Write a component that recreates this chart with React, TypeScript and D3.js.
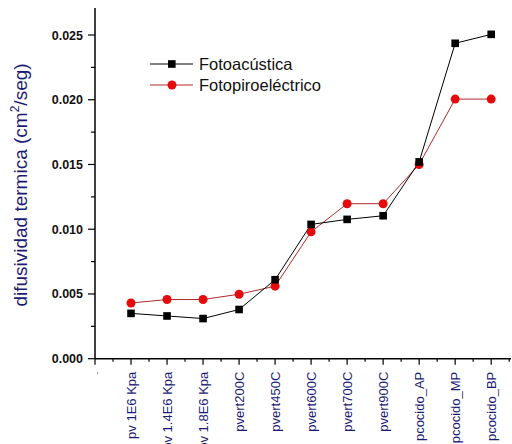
import React, { useRef, useEffect } from "react";
import { select, scaleLinear, line, range } from "d3";

const categories = [
  "-",
  "pv 1E6 Kpa",
  "pv 1.4E6 Kpa",
  "pv 1.8E6 Kpa",
  "pvert200C",
  "pvert450C",
  "pvert600C",
  "pvert700C",
  "pvert900C",
  "pcocido_AP",
  "pcocido_MP",
  "pcocido_BP",
];

const fotoacustica = [0.0035, 0.0033, 0.0031, 0.0038, 0.0061, 0.01037, 0.01076, 0.01104, 0.0152, 0.02436, 0.02505];
const fotopiro = [0.0043, 0.00457, 0.00457, 0.00498, 0.0056, 0.0098, 0.01197, 0.01197, 0.015, 0.02005, 0.02005];

const yTicks = [0, 0.005, 0.01, 0.015, 0.02, 0.025];

export default function App() {
  const svgRef = useRef<SVGSVGElement>(null);

  useEffect(() => {
    const svg = select(svgRef.current);
    svg.selectAll("*").remove();

    const navy = "#1b1b74";
    const font = "Liberation Sans, Arial, sans-serif";
    const x = scaleLinear().domain([0, 11.55]).range([95, 511]);
    const y = scaleLinear().domain([0, 0.025]).range([358.7, 35]);

    const g = svg.append("g");

    // y axis
    g.append("line").attr("x1", 95).attr("x2", 95).attr("y1", 8).attr("y2", y(0)).attr("stroke", "#000").attr("stroke-width", 1.5);
    range(0, 0.0271, 0.0025).forEach((v, i) => {
      const major = i % 2 === 0;
      g.append("line")
        .attr("x1", 95).attr("x2", major ? 88 : 91)
        .attr("y1", y(v)).attr("y2", y(v))
        .attr("stroke", "#000").attr("stroke-width", 1.2);
    });
    yTicks.forEach((v) => {
      g.append("text")
        .attr("x", 83).attr("y", y(v) + 4.5)
        .attr("text-anchor", "end")
        .attr("font-family", font)
        .attr("font-weight", "bold")
        .attr("font-size", 12.5)
        .attr("fill", "#111")
        .text(v.toFixed(3));
    });

    // x axis
    g.append("line").attr("x1", 95).attr("x2", 511).attr("y1", y(0)).attr("y2", y(0)).attr("stroke", "#000").attr("stroke-width", 1.5);
    range(0, 11.6, 0.5).forEach((v, i) => {
      const major = i % 2 === 0;
      g.append("line")
        .attr("x1", x(v)).attr("x2", x(v))
        .attr("y1", y(0)).attr("y2", y(0) + (major ? 6 : 3))
        .attr("stroke", "#000").attr("stroke-width", 1.2);
    });
    categories.forEach((c, i) => {
      g.append("text")
        .attr("transform", `translate(${x(i) + 4.5},${y(0) + 13}) rotate(-90)`)
        .attr("text-anchor", "end")
        .attr("font-family", font)
        .attr("font-size", i === 0 ? 9 : 13)
        .attr("fill", i === 0 ? "#667" : navy)
        .text(c);
    });

    // y title
    const title = g.append("text")
      .attr("transform", `translate(27,185) rotate(-90)`)
      .attr("text-anchor", "middle")
      .attr("font-family", font)
      .attr("font-size", 19)
      .attr("fill", navy);
    title.append("tspan").text("difusividad termica (cm");
    title.append("tspan").attr("font-size", 12).attr("dy", -8).text("2");
    title.append("tspan").attr("dy", 8).text("/seg)");

    const lineGen = line<number>().x((_, i) => x(i + 1)).y((d) => y(d));

    // red series
    g.append("path").datum(fotopiro).attr("d", lineGen).attr("fill", "none").attr("stroke", "#b02a2a").attr("stroke-width", 1);
    // black series
    g.append("path").datum(fotoacustica).attr("d", lineGen).attr("fill", "none").attr("stroke", "#000").attr("stroke-width", 1);

    g.selectAll(".pt-red").data(fotopiro).join("circle")
      .attr("cx", (_, i) => x(i + 1)).attr("cy", (d) => y(d)).attr("r", 4.5).attr("fill", "#e30b0b");
    g.selectAll(".pt-black").data(fotoacustica).join("rect")
      .attr("x", (_, i) => x(i + 1) - 3.8).attr("y", (d) => y(d) - 3.8)
      .attr("width", 7.6).attr("height", 7.6).attr("fill", "#000");

    // legend
    const legend = [
      { name: "Fotoacústica", color: "#000", mark: "square", y: 64 },
      { name: "Fotopiroeléctrico", color: "#b02a2a", mark: "circle", y: 85 },
    ];
    legend.forEach((l) => {
      g.append("line").attr("x1", 150).attr("x2", 193).attr("y1", l.y).attr("y2", l.y).attr("stroke", l.color).attr("stroke-width", 1);
      if (l.mark === "square") {
        g.append("rect").attr("x", 168).attr("y", l.y - 3.8).attr("width", 7.6).attr("height", 7.6).attr("fill", "#000");
      } else {
        g.append("circle").attr("cx", 172).attr("cy", l.y).attr("r", 4.5).attr("fill", "#e30b0b");
      }
      g.append("text")
        .attr("x", 199).attr("y", l.y + 6)
        .attr("font-family", font)
        .attr("font-size", 16.5)
        .attr("fill", "#111")
        .text(l.name);
    });
  }, []);

  return (
    <svg ref={svgRef} width={512} height={444} style={{ position: "absolute", left: 0, top: 0, background: "#fff" }} />
  );
}
